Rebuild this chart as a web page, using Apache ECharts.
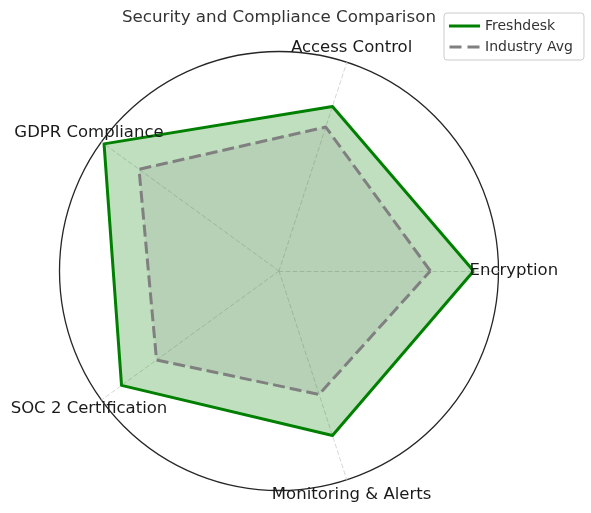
<!DOCTYPE html>
<html>
<head>
<meta charset="utf-8">
<script src="https://cdn.jsdelivr.net/npm/echarts@6/dist/echarts.min.js"></script>
<style>
  html, body { margin: 0; padding: 0; background: #fff; }
  #chart { width: 591px; height: 513px; }
</style>
</head>
<body>
<div id="chart"></div>
<script>
// data
let categories = ['Encryption', 'Access Control', 'GDPR Compliance', 'SOC 2 Certification', 'Monitoring & Alerts'];
let freshdesk = [9, 8, 10, 9, 8];
let industryAvg = [7, 7, 8, 7, 6];
let seriesNames = ['Freshdesk', 'Industry Avg'];
let rMax = 10.15;

let center = [279, 271];
let radius = 219.5;
let font = 'DejaVu Sans';

var myChart = echarts.init(document.getElementById('chart'), null, { renderer: 'canvas' });

let step = 360 / categories.length;
let labelPoints = categories.map(function (c, i) {
	return { name: c, value: [1, i * step] };
});

let option = {
	animation: false,
	title: {
		text: 'Security and Compliance Comparison',
		left: 122,
		top: 9,
		padding: 0,
		textStyle: { fontFamily: font, fontSize: 16.7, fontWeight: 'normal', color: '#333' }
	},
	legend: {
		orient: 'vertical',
		left: 444,
		top: 13,
		padding: [5, 11, 5, 5],
		itemGap: 5,
		itemWidth: 31,
		itemHeight: 3,
		borderColor: '#cccccc',
		borderWidth: 1,
		borderRadius: 3,
		textStyle: { fontFamily: font, fontSize: 14, color: '#333', lineHeight: 16 },
		data: [
			{ name: seriesNames[0], icon: 'rect', itemStyle: { color: '#008000' } },
			{ name: seriesNames[1], icon: 'path://M0,0h12v3h-12zM18,0h12v3h-12z', itemStyle: { color: '#808080' } }
		]
	},
	radar: {
		center: center,
		radius: radius,
		startAngle: 0,
		shape: 'circle',
		splitNumber: 1,
		indicator: categories.map(function (c) { return { name: c, min: 0, max: rMax }; }),
		axisName: { show: false },
		splitArea: { show: false },
		splitLine: { lineStyle: { color: '#262626', width: 1.3 } },
		axisLine: { lineStyle: { color: '#cccccc', width: 0.8, type: [4, 3] } }
	},
	polar: {
		center: center,
		radius: radius * 1.07
	},
	angleAxis: {
		type: 'value', min: 0, max: 360, startAngle: 0, clockwise: false, show: false
	},
	radiusAxis: {
		type: 'value', min: 0, max: 1, show: false
	},
	series: [
		{
			type: 'radar',
			symbol: 'none',
			data: [
				{
					name: seriesNames[0],
					value: freshdesk,
					lineStyle: { color: '#008000', width: 3 },
					itemStyle: { color: '#008000' },
					areaStyle: { color: 'rgba(0,128,0,0.25)', opacity: 1 }
				},
				{
					name: seriesNames[1],
					value: industryAvg,
					lineStyle: { color: '#808080', width: 3, type: [12, 5] },
					itemStyle: { color: '#808080' },
					areaStyle: { color: 'rgba(128,128,128,0.15)', opacity: 1 }
				}
			]
		},
		{
			type: 'scatter',
			coordinateSystem: 'polar',
			symbolSize: 0,
			silent: true,
			data: labelPoints,
			label: {
				show: true,
				position: 'inside',
				formatter: '{b}',
				fontFamily: font,
				fontSize: 16.5,
				color: '#1a1a1a',
				opacity: 1
			}
		}
	]
};

myChart.setOption(option, true);
</script>
</body>
</html>
